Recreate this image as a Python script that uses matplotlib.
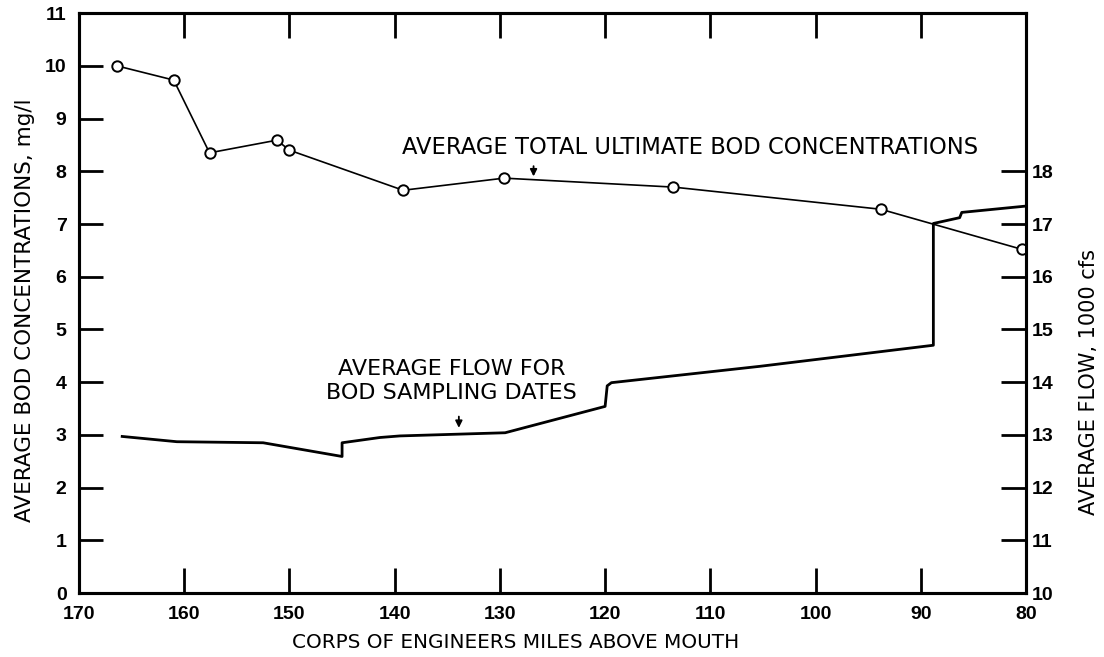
import matplotlib
matplotlib.use('Agg')
import matplotlib.pyplot as plt

plt.rcParams['font.family'] = ['Liberation Sans', 'DejaVu Sans']

# average total ultimate BOD, mg/l
bod_miles = [166.4, 161.0, 157.6, 151.2, 150.0, 139.2, 129.6, 113.5, 93.8, 80.4]
bod_conc = [10.0, 9.73, 8.35, 8.59, 8.40, 7.64, 7.87, 7.70, 7.28, 6.52]

# average flow for BOD sampling dates, 1000 cfs
flow_miles = [165.9, 160.7, 152.5, 145.0, 145.0, 141.4, 139.5, 129.5, 120.0, 119.8,
              119.4, 105.3, 88.8, 88.8, 86.3, 86.1, 80.0]
flow_cfs = [12.97, 12.87, 12.85, 12.59, 12.85, 12.95, 12.98, 13.04, 13.54, 13.93,
            13.99, 14.30, 14.70, 17.01, 17.12, 17.22, 17.34]

x_ticks = [170, 160, 150, 140, 130, 120, 110, 100, 90, 80]
left_ticks = list(range(0, 12))
right_ticks = list(range(10, 19))

label_font = 'DejaVu Sans'
W, H = 1104, 657

fig = plt.figure(figsize=(W / 100, H / 100), dpi=100)
ax = fig.add_axes([0.0716, 0.0974, 0.8577, 0.8826])
ax2 = ax.twinx()

ax.plot(bod_miles, bod_conc, color='black', lw=1.2, marker='o', ms=7.5,
        mfc='white', mec='black', mew=1.4, zorder=3)
ax2.plot(flow_miles, flow_cfs, color='black', lw=2.0, zorder=3)

ax.set_xlim(170, 80)
ax.set_ylim(0, 11)
ax2.set_ylim(10, 21)

ax.set_xticks(x_ticks)
ax.set_yticks(left_ticks)
ax2.set_yticks(right_ticks)

for a in (ax, ax2):
    for s in a.spines.values():
        s.set_linewidth(2.2)

ax.tick_params(axis='x', direction='in', length=18, width=2, pad=9,
               top=True, labelsize=14)
ax.tick_params(axis='y', direction='in', length=17, width=2, pad=9, labelsize=14)
ax2.tick_params(axis='y', direction='in', length=18, width=2, pad=4, labelsize=14)
for lab in ax.get_xticklabels() + ax.get_yticklabels() + ax2.get_yticklabels():
    lab.set_fontweight('bold')

# axis titles placed by pixel centre
fig.text(516 / W, 1 - 642 / H, 'CORPS OF ENGINEERS MILES ABOVE MOUTH',
         fontsize=14.4, family=label_font, ha='center', va='center')
fig.text(25 / W, 1 - 310 / H, 'AVERAGE BOD CONCENTRATIONS, mg/l',
         fontsize=15.5, family=label_font, ha='center', va='center', rotation=90)
fig.text(1089 / W, 1 - 382 / H, 'AVERAGE FLOW, 1000 cfs',
         fontsize=15, family=label_font, ha='center', va='center', rotation=90)

ax.text(139.3, 8.46, 'AVERAGE TOTAL ULTIMATE BOD CONCENTRATIONS', fontsize=16.3,
        family=label_font, ha='left', va='center')
ax.annotate('', xy=(126.8, 7.85), xytext=(126.8, 8.15),
            arrowprops=dict(arrowstyle='-|>', color='black', lw=1.3,
                            mutation_scale=10))

ax.text(134.6, 4.02, 'AVERAGE FLOW FOR\nBOD SAMPLING DATES', fontsize=16,
        family=label_font, ha='center', va='center', linespacing=1.2)
ax.annotate('', xy=(133.9, 3.08), xytext=(133.9, 3.40),
            arrowprops=dict(arrowstyle='-|>', color='black', lw=1.3,
                            mutation_scale=10))

fig.savefig('out.png', dpi=100)
